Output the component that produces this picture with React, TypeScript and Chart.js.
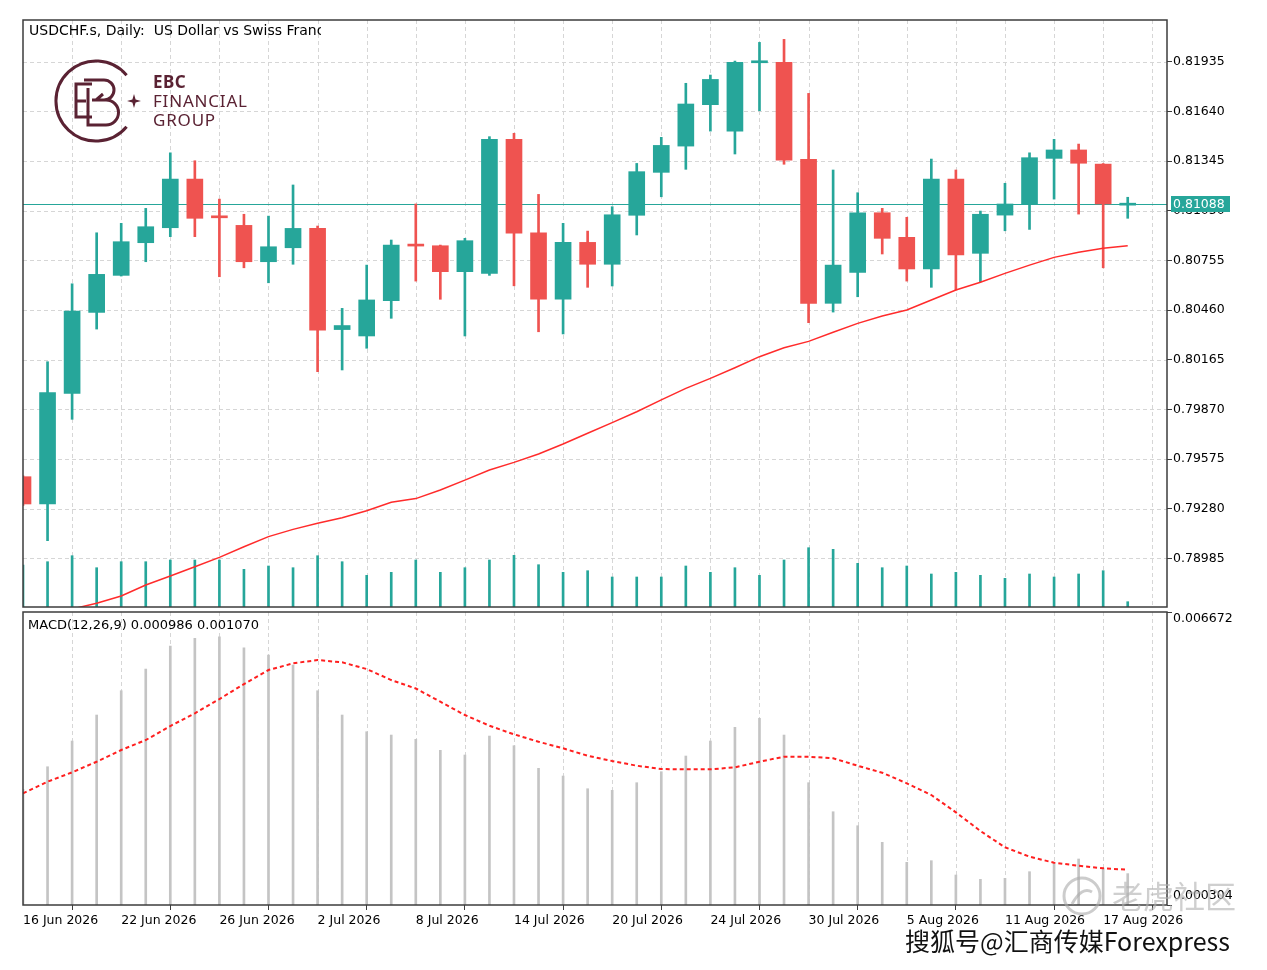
import React, { useEffect, useRef } from "react";
import { Chart, registerables } from "chart.js";

Chart.register(...registerables);

// ---------- data ----------
const DATES = [
  "16 Jun 2026", "17 Jun 2026", "18 Jun 2026", "19 Jun 2026", "22 Jun 2026", "23 Jun 2026",
  "24 Jun 2026", "25 Jun 2026", "26 Jun 2026", "29 Jun 2026", "30 Jun 2026", "1 Jul 2026",
  "2 Jul 2026", "3 Jul 2026", "6 Jul 2026", "7 Jul 2026", "8 Jul 2026", "9 Jul 2026",
  "10 Jul 2026", "13 Jul 2026", "14 Jul 2026", "15 Jul 2026", "16 Jul 2026", "17 Jul 2026",
  "20 Jul 2026", "21 Jul 2026", "22 Jul 2026", "23 Jul 2026", "24 Jul 2026", "27 Jul 2026",
  "28 Jul 2026", "29 Jul 2026", "30 Jul 2026", "31 Jul 2026", "3 Aug 2026", "4 Aug 2026",
  "5 Aug 2026", "6 Aug 2026", "7 Aug 2026", "10 Aug 2026", "11 Aug 2026", "12 Aug 2026",
  "13 Aug 2026", "14 Aug 2026", "17 Aug 2026", "18 Aug 2026",
];

const OPEN = [
  0.79470, 0.79308, 0.79965, 0.80446, 0.80666, 0.80860, 0.80949, 0.81238, 0.81013, 0.80963,
  0.80747, 0.80830, 0.80945, 0.80344, 0.80306, 0.80515, 0.80846, 0.80842, 0.80688, 0.80678,
  0.81474, 0.80919, 0.80524, 0.80862, 0.80732, 0.81023, 0.81278, 0.81434, 0.81680, 0.81523,
  0.81929, 0.81931, 0.81355, 0.80500, 0.80684, 0.81038, 0.80892, 0.80704, 0.81238, 0.80797,
  0.81024, 0.81090, 0.81361, 0.81411, 0.81327, 0.81083,
];
const HIGH = [
  0.79475, 0.80153, 0.80616, 0.80919, 0.80975, 0.81064, 0.81394, 0.81347, 0.81119, 0.81029,
  0.81018, 0.81203, 0.80959, 0.80470, 0.80727, 0.80876, 0.81090, 0.80846, 0.80886, 0.81490,
  0.81510, 0.81147, 0.80975, 0.80929, 0.81074, 0.81331, 0.81486, 0.81807, 0.81856, 0.81939,
  0.82050, 0.82068, 0.81747, 0.81292, 0.81157, 0.81064, 0.81011, 0.81357, 0.81292, 0.81048,
  0.81213, 0.81394, 0.81474, 0.81446, 0.81330, 0.81130,
];
const LOW = [
  0.79300, 0.79090, 0.79811, 0.80347, 0.80662, 0.80747, 0.80896, 0.80896, 0.80658, 0.80711,
  0.80622, 0.80732, 0.80094, 0.80104, 0.80233, 0.80411, 0.80632, 0.80524, 0.80306, 0.80666,
  0.80604, 0.80331, 0.80318, 0.80595, 0.80603, 0.80906, 0.81133, 0.81296, 0.81523, 0.81387,
  0.81644, 0.81326, 0.80385, 0.80448, 0.80539, 0.80793, 0.80632, 0.80595, 0.80579, 0.80628,
  0.80931, 0.80939, 0.81119, 0.81030, 0.80711, 0.81005,
];
const CLOSE = [
  0.79308, 0.79969, 0.80454, 0.80672, 0.80866, 0.80955, 0.81238, 0.81005, 0.81008, 0.80747,
  0.80836, 0.80945, 0.80341, 0.80368, 0.80520, 0.80846, 0.80840, 0.80688, 0.80872, 0.81474,
  0.80916, 0.80524, 0.80862, 0.80732, 0.81026, 0.81282, 0.81438, 0.81684, 0.81830, 0.81931,
  0.81933, 0.81351, 0.80500, 0.80727, 0.81038, 0.80886, 0.80704, 0.81238, 0.80787, 0.81029,
  0.81090, 0.81365, 0.81411, 0.81332, 0.81090, 0.81088,
];
const VOLUME = [
  42000, 45300, 51300, 39300, 45300, 45300, 47000, 47000, 47000, 37700,
  41000, 39300, 51300, 45300, 31700, 34700, 47000, 34700, 39300, 47000,
  51700, 42300, 34700, 36300, 30000, 30000, 30000, 41000, 34700, 39300,
  31700, 47000, 59300, 57700, 43700, 39300, 41000, 33000, 34700, 31700,
  28700, 33000, 30000, 33000, 36300, 5300,
];
const MA = [
  null, null, 0.78684, 0.78718, 0.78761, 0.78827, 0.78880, 0.78935, 0.78991, 0.79054,
  0.79114, 0.79157, 0.79193, 0.79226, 0.79268, 0.79318, 0.79340, 0.79391, 0.79450, 0.79510,
  0.79555, 0.79605, 0.79664, 0.79728, 0.79791, 0.79856, 0.79926, 0.79995, 0.80054, 0.80117,
  0.80183, 0.80236, 0.80274, 0.80328, 0.80381, 0.80425, 0.80460, 0.80520, 0.80579, 0.80625,
  0.80678, 0.80727, 0.80773, 0.80803, 0.80827, 0.80842,
];
const MACD_MAIN = [
  0.002820, 0.003309, 0.003868, 0.004433, 0.004961, 0.005432, 0.005932, 0.006099, 0.006134, 0.005895,
  0.005737, 0.005519, 0.004961, 0.004433, 0.004070, 0.003998, 0.003905, 0.003666, 0.003564, 0.003976,
  0.003766, 0.003275, 0.003107, 0.002831, 0.002796, 0.002962, 0.003201, 0.003542, 0.003868, 0.004165,
  0.004361, 0.003998, 0.002962, 0.002331, 0.002027, 0.001666, 0.001232, 0.001267, 0.000956, 0.000862,
  0.000884, 0.001028, 0.001210, 0.001304, 0.001101, 0.000986,
];
const MACD_SIGNAL = [
  0.002731, 0.002983, 0.003188, 0.003418, 0.003672, 0.003889, 0.004194, 0.004470, 0.004780, 0.005106,
  0.005411, 0.005556, 0.005628, 0.005578, 0.005432, 0.005193, 0.005009, 0.004722, 0.004433, 0.004200,
  0.004013, 0.003853, 0.003709, 0.003548, 0.003433, 0.003331, 0.003259, 0.003253, 0.003253, 0.003296,
  0.003418, 0.003527, 0.003527, 0.003492, 0.003331, 0.003179, 0.002949, 0.002694, 0.002318, 0.001912,
  0.001558, 0.001354, 0.001223, 0.001158, 0.001102, 0.001070,
];

const PRICE_TICKS = [
  0.81935, 0.81640, 0.81345, 0.81050, 0.80755, 0.80460, 0.80165, 0.79870, 0.79575, 0.79280, 0.78985,
];
const MACD_TICKS = [0.006672, 0.000304];
const TITLE = "USDCHF.s, Daily:  US Dollar vs Swiss Franc";

// ---------- scale settings ----------
const X_MIN = 0;
const X_MAX = 46.6;
const Y_MIN = 0.78696;
const Y_MAX = 0.82183;
const VOL_MAX = 587000;
const MACD_MIN = 0.000304;
const MACD_MAX = 0.006672;

const FONT = "DejaVu Sans";
const AXIS_FONT_SIZE = 12.5;
const TEAL = "#26a69a";
const RED = "#ef5350";
const FRAME = "#3c3c3c";
const GRID = "#d6d6d6";

Chart.defaults.font.family = FONT;
Chart.defaults.font.size = AXIS_FONT_SIZE;
Chart.defaults.color = "#000";

const LAST_PRICE = CLOSE[CLOSE.length - 1];
const CANDLE_COLORS = OPEN.map((o, i) => (CLOSE[i] >= o ? TEAL : RED));
const LABEL_IDX = DATES.map((_, i) => i).filter((i) => i % 4 === 0);

function drawGrid(chart: any, hTicks: number[] | null) {
  const { ctx, chartArea: a, scales } = chart;
  ctx.save();
  ctx.beginPath();
  ctx.rect(a.left, a.top, a.right - a.left, a.bottom - a.top);
  ctx.clip();
  ctx.strokeStyle = GRID;
  ctx.lineWidth = 1;
  ctx.setLineDash([4, 3]);
  for (let i = 2; i <= X_MAX; i += 2) {
    const px = Math.round(scales.x.getPixelForValue(i)) + 0.5;
    ctx.beginPath();
    ctx.moveTo(px, a.top);
    ctx.lineTo(px, a.bottom);
    ctx.stroke();
  }
  if (hTicks) {
    for (const v of hTicks) {
      const py = Math.round(scales.y.getPixelForValue(v)) + 0.5;
      ctx.beginPath();
      ctx.moveTo(a.left, py);
      ctx.lineTo(a.right, py);
      ctx.stroke();
    }
  }
  ctx.restore();
}

function drawFrame(chart: any) {
  const { ctx, chartArea: a } = chart;
  ctx.save();
  ctx.strokeStyle = FRAME;
  ctx.lineWidth = 1.5;
  ctx.strokeRect(a.left, a.top, a.right - a.left, a.bottom - a.top);
  ctx.restore();
}

const mainPlugin = {
  id: "mtMain",
  beforeDatasetsDraw(chart: any) {
    drawGrid(chart, PRICE_TICKS);
    const { ctx, chartArea: a, scales } = chart;
    const py = Math.round(scales.y.getPixelForValue(LAST_PRICE)) + 0.5;
    ctx.save();
    ctx.strokeStyle = TEAL;
    ctx.lineWidth = 1;
    ctx.beginPath();
    ctx.moveTo(a.left, py);
    ctx.lineTo(a.right, py);
    ctx.stroke();
    ctx.restore();
  },
  afterDraw(chart: any) {
    drawFrame(chart);
    const { ctx, chartArea: a, scales } = chart;
    const py = scales.y.getPixelForValue(LAST_PRICE);
    ctx.save();
    ctx.fillStyle = TEAL;
    ctx.fillRect(a.right + 4, Math.round(py) - 8, 59, 16);
    ctx.fillStyle = "#fff";
    ctx.font = `${AXIS_FONT_SIZE}px ${FONT}`;
    ctx.textBaseline = "middle";
    ctx.textAlign = "left";
    ctx.fillText(LAST_PRICE.toFixed(5), a.right + 6, Math.round(py) + 0.5);
    ctx.restore();
  },
};

const macdPlugin = {
  id: "mtMacd",
  beforeDatasetsDraw(chart: any) {
    drawGrid(chart, null);
  },
  afterDraw(chart: any) {
    drawFrame(chart);
    const { ctx, chartArea: a, scales } = chart;
    ctx.save();
    ctx.fillStyle = "#000";
    ctx.font = `${AXIS_FONT_SIZE}px ${FONT}`;
    ctx.textAlign = "left";
    ctx.textBaseline = "middle";
    const topY = scales.y.getPixelForValue(MACD_TICKS[0]);
    const botY = scales.y.getPixelForValue(MACD_TICKS[1]);
    ctx.fillText(MACD_TICKS[0].toFixed(6), a.right + 6, topY + 7);
    ctx.fillText(MACD_TICKS[1].toFixed(6), a.right + 6, botY - 9);
    ctx.restore();
  },
};

const fixY = (s: any) => {
  s.width = 100;
  s.paddingTop = 0;
  s.paddingBottom = 0;
};

function mainConfig(): any {
  return {
    type: "bar",
    data: {
      datasets: [
        {
          type: "line",
          label: "MA",
          data: MA.map((v, i) => ({ x: i, y: v })),
          borderColor: "#ff2b2b",
          borderWidth: 1.5,
          pointRadius: 0,
          tension: 0,
          yAxisID: "y",
          order: 0,
        },
        {
          type: "bar",
          label: "Body",
          data: OPEN.map((o, i) => ({ x: i, y: [o, CLOSE[i]] })),
          backgroundColor: CANDLE_COLORS,
          barThickness: 16,
          minBarLength: 2,
          grouped: false,
          yAxisID: "y",
          order: 1,
        },
        {
          type: "bar",
          label: "Wick",
          data: LOW.map((l, i) => ({ x: i, y: [l, HIGH[i]] })),
          backgroundColor: CANDLE_COLORS,
          barThickness: 2,
          grouped: false,
          yAxisID: "y",
          order: 2,
        },
        {
          type: "bar",
          label: "Volume",
          data: VOLUME.map((v, i) => ({ x: i, y: v })),
          backgroundColor: TEAL,
          barThickness: 2,
          grouped: false,
          yAxisID: "yv",
          order: 3,
        },
      ],
    },
    options: {
      responsive: false,
      maintainAspectRatio: false,
      animation: false,
      events: [],
      layout: { padding: { left: 23, top: 20, right: 0, bottom: 2 } },
      plugins: { legend: { display: false }, tooltip: { enabled: false } },
      scales: {
        x: { type: "linear", min: X_MIN, max: X_MAX, display: false, offset: false },
        y: {
          type: "linear",
          position: "right",
          min: Y_MIN,
          max: Y_MAX,
          afterFit: fixY,
          afterBuildTicks: (s: any) => {
            s.ticks = PRICE_TICKS.map((v) => ({ value: v }));
          },
          ticks: {
            callback: (v: any) => Number(v).toFixed(5),
            font: { family: FONT, size: AXIS_FONT_SIZE },
            color: "#000",
            padding: 1,
            autoSkip: false,
          },
          grid: { drawOnChartArea: false, drawTicks: true, tickLength: 5, color: FRAME, lineWidth: 1 },
          border: { display: false },
        },
        yv: { type: "linear", display: false, min: 0, max: VOL_MAX },
      },
    },
    plugins: [mainPlugin],
  };
}

function macdConfig(): any {
  return {
    type: "bar",
    data: {
      datasets: [
        {
          type: "line",
          label: "Signal",
          data: MACD_SIGNAL.map((v, i) => ({ x: i, y: v })),
          borderColor: "#ff1f1f",
          borderWidth: 2,
          borderDash: [4, 3],
          pointRadius: 0,
          tension: 0,
          order: 0,
        },
        {
          type: "bar",
          label: "MACD",
          data: MACD_MAIN.map((v, i) => ({ x: i, y: v })),
          backgroundColor: "#c4c4c4",
          barThickness: 2,
          grouped: false,
          order: 1,
        },
      ],
    },
    options: {
      responsive: false,
      maintainAspectRatio: false,
      animation: false,
      events: [],
      layout: { padding: { left: 23, top: 3, right: 0, bottom: 40 } },
      plugins: { legend: { display: false }, tooltip: { enabled: false } },
      scales: {
        x: {
          type: "linear",
          min: X_MIN,
          max: X_MAX,
          offset: false,
          position: "bottom",
          afterFit: (s: any) => {
            s.height = 25;
            s.paddingLeft = 0;
            s.paddingRight = 0;
          },
          afterBuildTicks: (s: any) => {
            s.ticks = LABEL_IDX.map((v) => ({ value: v }));
          },
          ticks: {
            callback: (v: any) => DATES[Math.round(Number(v))],
            align: "start",
            font: { family: FONT, size: AXIS_FONT_SIZE },
            color: "#000",
            padding: 3,
            autoSkip: false,
            maxRotation: 0,
            minRotation: 0,
          },
          grid: { drawOnChartArea: false, drawTicks: true, tickLength: 5, color: FRAME, lineWidth: 1 },
          border: { display: false },
        },
        y: {
          type: "linear",
          position: "right",
          min: MACD_MIN,
          max: MACD_MAX,
          afterFit: fixY,
          afterBuildTicks: (s: any) => {
            s.ticks = MACD_TICKS.map((v) => ({ value: v }));
          },
          ticks: { display: false },
          grid: { drawOnChartArea: false, drawTicks: true, tickLength: 5, color: FRAME, lineWidth: 1 },
          border: { display: false },
        },
      },
    },
    plugins: [macdPlugin],
  };
}

function EbcLogo() {
  const c = "#5a2233";
  return (
    <svg
      width={270}
      height={160}
      style={{ position: "absolute", left: 0, top: 0 }}
      xmlns="http://www.w3.org/2000/svg"
    >
      <path d="M 126.6 75.3 A 40 40 0 1 0 126.6 126.7" stroke={c} strokeWidth={3} fill="none" />
      <path
        d="M134 94 L135.6 99.4 L141 101 L135.6 102.6 L134 108 L132.4 102.6 L127 101 L132.4 99.4 Z"
        fill={c}
      />
      <path d="M 92 84 H 76 V 117 H 92 M 76 101 H 86" stroke={c} strokeWidth={3} fill="none" />
      <path
        d="M 84 80 H 104 A 10 10 0 0 1 104 100 H 96 L 103 94 M 92 100 H 106 A 12.5 12.5 0 0 1 106 125 H 88 V 88"
        stroke={c}
        strokeWidth={3}
        fill="none"
      />
      <text x={153} y={88} fill={c} fontFamily="Noto Sans" fontWeight={700} fontSize={17} letterSpacing={0.5}>
        EBC
      </text>
      <text x={153} y={107} fill={c} fontFamily="Noto Sans" fontSize={17} letterSpacing={0.8}>
        FINANCIAL
      </text>
      <text x={153} y={126} fill={c} fontFamily="Noto Sans" fontSize={17} letterSpacing={0.8}>
        GROUP
      </text>
    </svg>
  );
}

export default function App() {
  const mainRef = useRef<HTMLCanvasElement>(null);
  const macdRef = useRef<HTMLCanvasElement>(null);

  useEffect(() => {
    const c1 = new Chart(mainRef.current as HTMLCanvasElement, mainConfig());
    const c2 = new Chart(macdRef.current as HTMLCanvasElement, macdConfig());
    return () => {
      c1.destroy();
      c2.destroy();
    };
  }, []);

  const macdTitle = `MACD(12,26,9) ${MACD_MAIN[MACD_MAIN.length - 1].toFixed(6)} ${MACD_SIGNAL[
    MACD_SIGNAL.length - 1
  ].toFixed(6)}`;

  return (
    <div
      style={{
        position: "absolute",
        left: 0,
        top: 0,
        width: 1267,
        height: 970,
        background: "#fff",
        overflow: "hidden",
        fontFamily: FONT,
      }}
    >
      <canvas
        ref={mainRef}
        width={1267}
        height={609}
        style={{ position: "absolute", left: 0, top: 0, width: 1267, height: 609 }}
      />
      <canvas
        ref={macdRef}
        width={1267}
        height={361}
        style={{ position: "absolute", left: 0, top: 609, width: 1267, height: 361 }}
      />
      <div
        style={{
          position: "absolute",
          left: 29,
          top: 21,
          width: 292,
          overflow: "hidden",
          whiteSpace: "pre",
          fontSize: 14,
          lineHeight: "18px",
          color: "#000",
        }}
      >
        {TITLE}
      </div>
      <EbcLogo />
      <div
        style={{
          position: "absolute",
          left: 28,
          top: 616,
          whiteSpace: "pre",
          fontSize: 13,
          lineHeight: "17px",
          color: "#000",
        }}
      >
        {macdTitle}
      </div>
      <svg width={50} height={50} style={{ position: "absolute", left: 1058, top: 872 }}>
        <circle cx={24} cy={24} r={18} stroke="rgba(170,170,170,0.6)" strokeWidth={3} fill="none" />
        <path d="M14 32 Q 24 14 34 20" stroke="rgba(170,170,170,0.6)" strokeWidth={3} fill="none" />
      </svg>
      <div
        style={{
          position: "absolute",
          left: 1112,
          top: 876,
          fontFamily: "Noto Sans CJK SC",
          fontSize: 31,
          lineHeight: "38px",
          color: "rgba(175,175,175,0.6)",
          whiteSpace: "nowrap",
        }}
      >
        老虎社区
      </div>
      <div
        style={{
          position: "absolute",
          left: 905,
          top: 923,
          fontFamily: "Noto Sans CJK SC",
          fontSize: 25,
          lineHeight: "34px",
          color: "#111",
          whiteSpace: "nowrap",
          textShadow: "1px 1px 0 #fff, -1px -1px 0 #fff, 1px -1px 0 #fff, -1px 1px 0 #fff",
        }}
      >
        搜狐号@汇商传媒Forexpress
      </div>
    </div>
  );
}
